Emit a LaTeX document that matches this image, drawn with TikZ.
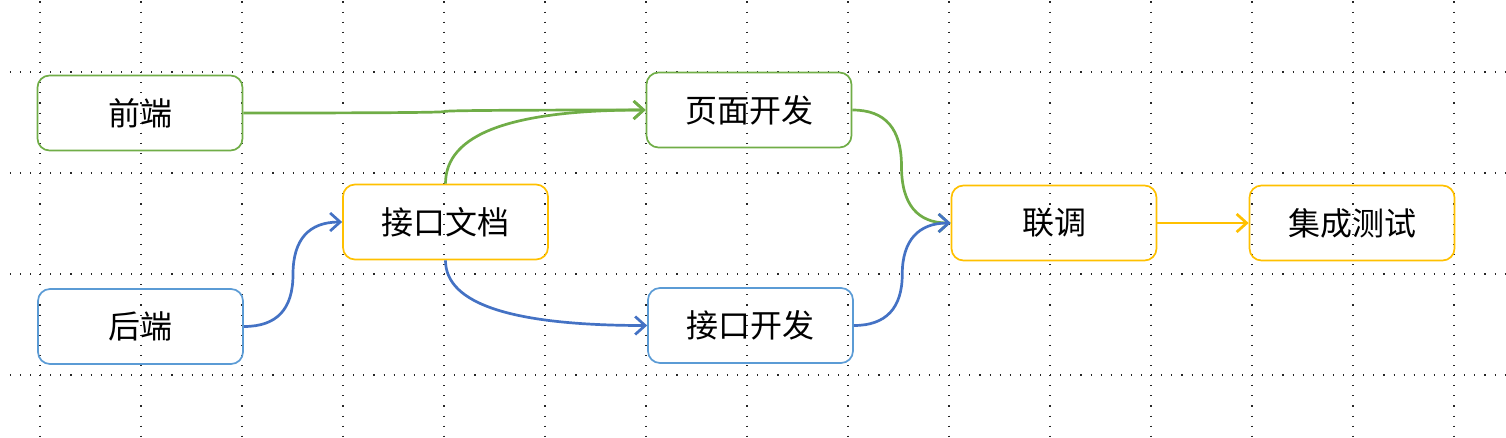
\documentclass[tikz,border=0pt]{standalone}
\usepackage{fontspec}
\newfontfamily\cjk{Noto Sans CJK SC}
\usepackage{tikz}
\usetikzlibrary{arrows.meta,calc}
\definecolor{vert}{RGB}{112,173,71}
\definecolor{bleu}{RGB}{68,114,196}
\definecolor{bleuclair}{RGB}{91,155,213}
\definecolor{jaune}{RGB}{255,192,0}

\begin{document}
\begin{tikzpicture}[x=1pt,y=-1pt,
  boite/.style={draw, line width=1.7pt, rounded corners=12pt, minimum width=205pt, minimum height=75pt, font=\cjk\fontsize{32}{32}\selectfont},
  fleche/.style={line width=2.7pt, -{Straight Barb[length=10pt,width=18pt]}},
  grille/.style={line width=1.1pt, black!85, dash pattern=on 1.1pt off 9pt}]

 \useasboundingbox (0,0) rectangle (1506,437);

	% Grille
 \foreach \i in {0,...,14}
  \draw[grille] (40+101*\i,1.4) -- (40+101*\i,437);
 \foreach \j in {0,...,3}
  \draw[grille] (9.8,72+101*\j) -- (1506,72+101*\j);

	% Blocs
 \node[boite, draw=vert] (0) at (140,113) {前端};
 \node[boite, draw=vert] (1) at (749,110) {页面开发};
 \node[boite, draw=jaune] (2) at (445.5,222) {接口文档};
 \node[boite, draw=bleuclair] (3) at (140.5,326.5) {后端};
 \node[boite, draw=bleuclair] (4) at (750.5,325.5) {接口开发};
 \node[boite, draw=jaune] (5) at (1054,223) {联调};
 \node[boite, draw=jaune] (6) at (1352,223) {集成测试};

	% Points milieu
 \coordinate (m0) at ($(0.east)!.5!(1.west)$);
 \coordinate (m3) at ($(3.east)!.5!(2.west)$);
 \coordinate (m1) at ($(1.east)!.5!(5.west)$);
 \coordinate (m4) at ($(4.east)!.5!(5.west)$);

	% Liaisons
 \draw[fleche, vert] (0.east) .. controls +(134,0) and +(0,1) .. (m0) .. controls +(0,-1) and +(-134,0) .. (1.west);
 \draw[fleche, vert] (2.north) .. controls +(0,-50) and +(-134,0) .. (1.west);
 \draw[fleche, bleu] (3.east) .. controls +(33,0) and +(0,35) .. (m3) .. controls +(0,-35) and +(-33,0) .. (2.west);
 \draw[fleche, bleu] (2.south) .. controls +(0,44) and +(-134,0) .. (4.west);
 \draw[fleche, vert] (1.east) .. controls +(33,0) and +(0,-38) .. (m1) .. controls +(0,38) and +(-33,0) .. (5.west);
 \draw[fleche, bleu] (4.east) .. controls +(32,0) and +(0,34) .. (m4) .. controls +(0,-34) and +(-32,0) .. (5.west);
 \draw[fleche, jaune] (5) -- (6);

\end{tikzpicture}
\end{document}
